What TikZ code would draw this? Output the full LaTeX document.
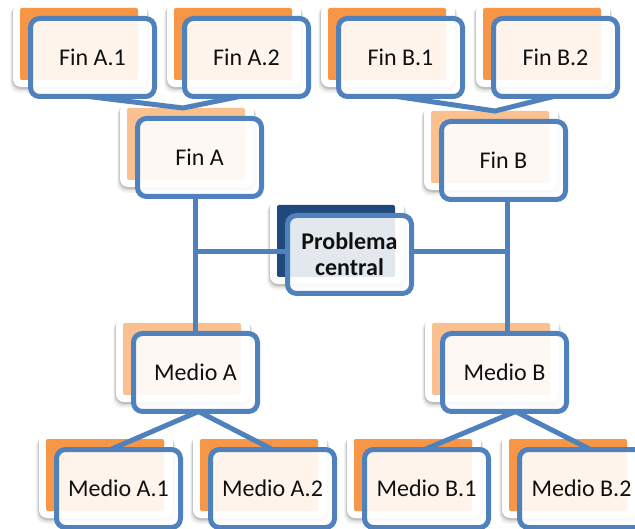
\documentclass[tikz,border=0pt]{standalone}
\usepackage{fontspec}
\setmainfont{Carlito}
\usetikzlibrary{calc}

\definecolor{frameblue}{HTML}{4F81BD}
\definecolor{leaforange}{HTML}{F79646}
\definecolor{midorange}{HTML}{FAC090}
\definecolor{coreblue}{HTML}{1F497D}
\definecolor{inktext}{HTML}{101010}

\pgfdeclarelayer{shadowlayer}
\pgfdeclarelayer{cardlayer}
\pgfdeclarelayer{backlayer}
\pgfdeclarelayer{linklayer}
\pgfsetlayers{shadowlayer,cardlayer,backlayer,linklayer,main}

\tikzset{
  cardbase/.style={fill=white, rounded corners=8pt, minimum width=134pt,
    minimum height=84pt, inner sep=0pt, outer sep=0pt},
  backsq/.style={rounded corners=2pt, minimum width=118pt, minimum height=72pt,
    inner sep=0pt, outer sep=0pt},
  frontbox/.style={draw=frameblue, line width=5pt, rounded corners=9pt,
    fill=white, fill opacity=0.9, text opacity=1, text=inktext,
    minimum width=124pt, minimum height=78pt, inner sep=0pt, outer sep=0pt,
    align=center, font=\fontsize{24pt}{26pt}\selectfont},
  corebox/.style={fill opacity=0.88, font=\fontsize{24pt}{26pt}\selectfont\bfseries},
  link/.style={draw=frameblue, line width=5pt, line join=miter},
}

% one card: soft shadow, white base, coloured back square, framed front box
% #1 name, #2 x, #3 y (top-left of back square), #4 back colour, #5 label, #6 extra style
\newcommand\mkcard[6]{%
  \begin{pgfonlayer}{shadowlayer}
    \foreach \g/\op in {5/0.04,3.5/0.06,2/0.08,1/0.1}{
      \fill[black, opacity=\op, rounded corners=9pt]
        (#2-7-\g*0.6,#3-4+\g*0.4) rectangle (#2+127+\g*0.5,#3+80+\g);
    }
  \end{pgfonlayer}
  \begin{pgfonlayer}{cardlayer}
    \node[cardbase] (#1-card) at (#2+60,#3+37) {};
  \end{pgfonlayer}
  \begin{pgfonlayer}{backlayer}
    \node[backsq, fill=#4] (#1-back) at (#2+59,#3+36) {};
  \end{pgfonlayer}
  \node[frontbox,#6] (#1) at (#2+72.5,#3+49.5) {#5};
}

\begin{document}
\begin{tikzpicture}[x=1pt, y=-1pt]
  \useasboundingbox (0,0) rectangle (635,529);

  % ends
  \mkcard{finA1}{20}{8}{leaforange}{Fin A.1}{}
  \mkcard{finA2}{174}{8}{leaforange}{Fin A.2}{}
  \mkcard{finB1}{328}{8}{leaforange}{Fin B.1}{}
  \mkcard{finB2}{483}{8}{leaforange}{Fin B.2}{}
  \mkcard{finA}{127}{108}{midorange}{Fin A}{}
  \mkcard{finB}{431}{111}{midorange}{Fin B}{}

  % core problem
  \mkcard{prob}{277}{205}{coreblue}{Problema\\central}{corebox}

  % means
  \mkcard{medA}{123}{323}{midorange}{Medio A}{}
  \mkcard{medB}{432}{323}{midorange}{Medio B}{}
  \mkcard{medA1}{46}{439}{leaforange}{Medio A.1}{}
  \mkcard{medA2}{200}{439}{leaforange}{Medio A.2}{}
  \mkcard{medB1}{354}{439}{leaforange}{Medio B.1}{}
  \mkcard{medB2}{509}{439}{leaforange}{Medio B.2}{}

  \coordinate (hl) at ([yshift=3pt]prob.west);
  \coordinate (hr) at ([yshift=3pt]prob.east);

  \begin{pgfonlayer}{linklayer}
    \draw[link] ([xshift=-4pt]finA1.south) -- ([xshift=-3pt]finA-back.north) -- ([xshift=-7pt]finA2.south);
    \draw[link] ([xshift=-4pt]finB1.south) -- ([xshift=5pt]finB-back.north) -- ([xshift=-2pt]finB2.south);
    \draw[link] (medA.north) -- (medA.north |- finA.south);
    \draw[link] ([xshift=3pt]medB.north) -- ([xshift=3pt]medB.north |- finB.south);
    \draw[link] (hl) -- (hl -| medA.north);
    \draw[link] (hr) -- ([xshift=3pt]hr -| medB.north);
    \draw[link] ([xshift=-8pt]medA1.north) -- ([xshift=3pt]medA.south) -- (medA2.north);
    \draw[link] ([xshift=-2pt]medB1.north) -- ([xshift=11pt]medB.south) -- ([xshift=9pt]medB2.north);
  \end{pgfonlayer}
\end{tikzpicture}
\end{document}
